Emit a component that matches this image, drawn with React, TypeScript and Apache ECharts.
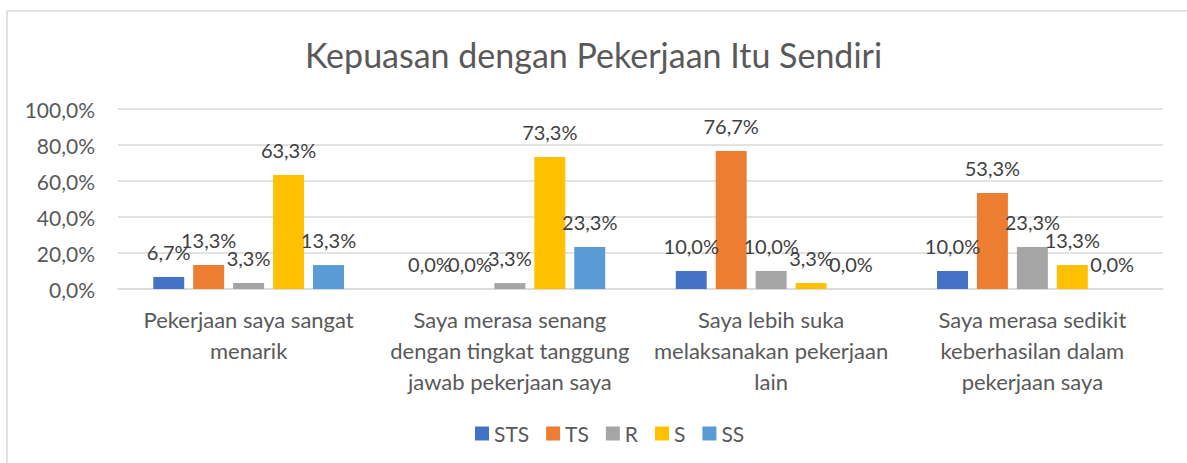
import React, { useEffect, useRef } from "react";
import * as echarts from "echarts";

const title = "Kepuasan dengan Pekerjaan Itu Sendiri";
const categories = [
  "Pekerjaan saya sangat\nmenarik",
  "Saya merasa senang\ndengan tingkat tanggung\njawab pekerjaan saya",
  "Saya lebih suka\nmelaksanakan pekerjaan\nlain",
  "Saya merasa sedikit\nkeberhasilan dalam\npekerjaan saya",
];
const seriesNames = ["STS", "TS", "R", "S", "SS"];
const STS = [6.7, 0.0, 10.0, 10.0];
const TS = [13.3, 0.0, 76.7, 53.3];
const R = [3.3, 3.3, 10.0, 23.3];
const S = [63.3, 73.3, 3.3, 13.3];
const SS = [13.3, 23.3, 0.0, 0.0];
const seriesValues = [STS, TS, R, S, SS];
const colors = ["#4472C4", "#ED7D31", "#A5A5A5", "#FFC000", "#5B9BD5"];
const yTicks = { min: 0, max: 100, interval: 20 };

const fmt = (v: number) => v.toFixed(1).replace(".", ",") + "%";

export default function App() {
  const ref = useRef<HTMLDivElement>(null);
  useEffect(() => {
    if (!ref.current) return;
    const chart = echarts.init(ref.current, undefined, { renderer: "svg" });
    const font = "Lato, 'Noto Sans', sans-serif";
    const textColor = "#595959";
    chart.setOption({
      animation: false,
      backgroundColor: "#ffffff",
      textStyle: { fontFamily: font },
      title: {
        text: title,
        left: "center",
        top: 32,
        textStyle: { fontFamily: font, fontSize: 34, fontWeight: "normal", color: textColor },
      },
      legend: {
        data: seriesNames,
        left: 470,
        top: 418,
        itemWidth: 14,
        itemHeight: 14,
        itemGap: 17,
        icon: "rect",
        textStyle: { fontFamily: font, fontSize: 21, color: textColor },
      },
      grid: { left: 118, right: 24, top: 109, bottom: 174, containLabel: false },
      xAxis: {
        type: "category",
        data: categories,
        axisLine: { show: true, lineStyle: { color: "#D9D9D9", width: 1.5 } },
        axisTick: { show: false },
        axisLabel: {
          interval: 0,
          margin: 15,
          fontFamily: font,
          fontSize: 22,
          lineHeight: 31,
          color: textColor,
          align: "center",
        },
      },
      yAxis: {
        type: "value",
        min: yTicks.min,
        max: yTicks.max,
        interval: yTicks.interval,
        axisLine: { show: false },
        axisTick: { show: false },
        splitLine: { lineStyle: { color: "#D9D9D9", width: 1.5 } },
        axisLabel: {
          margin: 23,
          fontFamily: font,
          fontSize: 21,
          color: textColor,
          formatter: (v: number) => fmt(v),
        },
      },
      series: seriesNames.map((name, i) => ({
        name,
        type: "bar",
        data: seriesValues[i],
        barGap: "29%",
        barCategoryGap: "27%",
        itemStyle: { color: colors[i] },
        label: {
          show: true,
          position: "top",
          distance: 15,
          fontFamily: font,
          fontSize: 20,
          color: "#404040",
          formatter: (p: any) => fmt(p.value),
        },
      })),
      graphic: [
        {
          type: "line",
          shape: { x1: 7, y1: 11, x2: 1187, y2: 11 },
          style: { stroke: "#D9D9D9", lineWidth: 1.5 },
        },
        {
          type: "line",
          shape: { x1: 7, y1: 11, x2: 7, y2: 463 },
          style: { stroke: "#D9D9D9", lineWidth: 1.5 },
        },
      ],
    });
    return () => chart.dispose();
  }, []);
  return (
    <div
      ref={ref}
      style={{ position: "fixed", left: 0, top: 0, width: 1187, height: 463, background: "#fff" }}
    />
  );
}
